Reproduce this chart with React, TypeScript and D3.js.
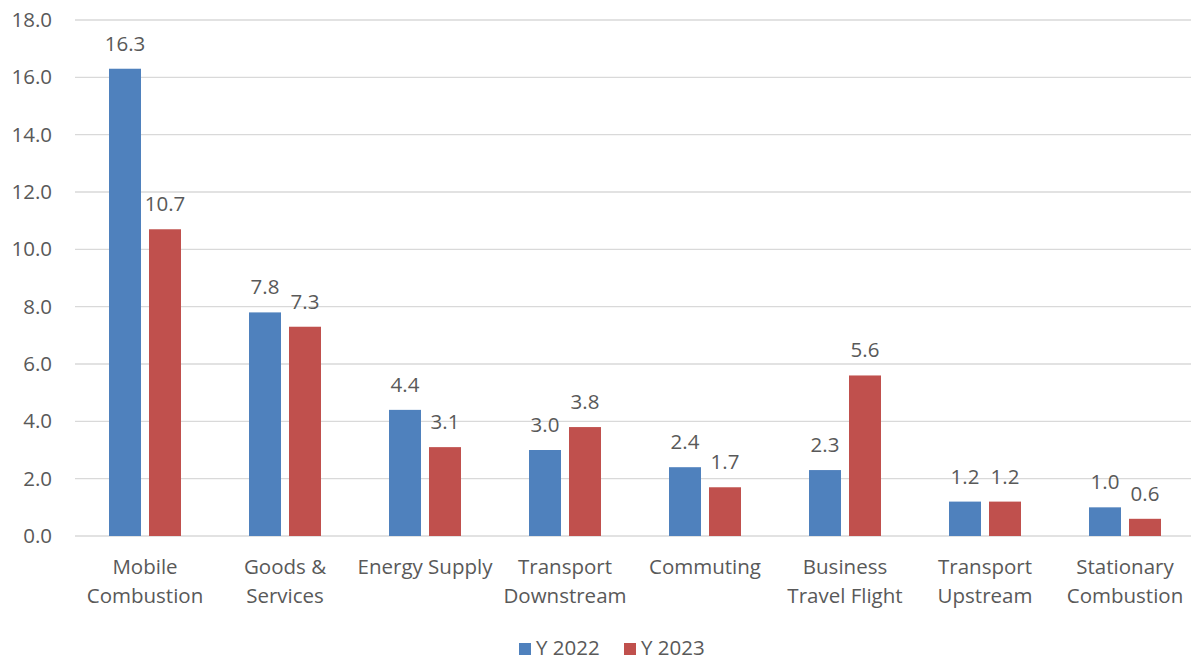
import React from "react";
import * as d3 from "d3";

const categories: string[][] = [
  ["Mobile", "Combustion"],
  ["Goods &", "Services"],
  ["Energy Supply"],
  ["Transport", "Downstream"],
  ["Commuting"],
  ["Business", "Travel Flight"],
  ["Transport", "Upstream"],
  ["Stationary", "Combustion"],
];
const y2022 = [16.3, 7.8, 4.4, 3.0, 2.4, 2.3, 1.2, 1.0];
const y2023 = [10.7, 7.3, 3.1, 3.8, 1.7, 5.6, 1.2, 0.6];
const seriesNames = ["Y 2022", "Y 2023"];
const seriesColors = ["#4F81BD", "#C0504D"];
const yTicks = [0, 2, 4, 6, 8, 10, 12, 14, 16, 18];

const W = 1191;
const H = 660;
const FONT = "'Open Sans', sans-serif";
const FS = 20.5;
const TXT = "#595959";

export default function App() {
  const left = 75, right = 1195, top = 20, bottom = 536;
  const keys = categories.map((_, i) => String(i));
  const x = d3.scaleBand<string>().domain(keys).range([left, right]).paddingInner(0).paddingOuter(0);
  const sub = d3.scaleBand<string>().domain(["0", "1"]).range([-36, 36]).paddingInner(0.2).paddingOuter(0);
  const y = d3.scaleLinear().domain([0, 18]).range([bottom, top]);
  const series = [y2022, y2023];

  return (
    <svg width={W} height={H} style={{ display: "block", position: "absolute", left: 0, top: 0 }} fontFamily={FONT}>
      <rect width={W} height={H} fill="#fff" />
      {yTicks.map((t) => (
        <g key={t}>
          <line x1={left} x2={right} y1={y(t)} y2={y(t)} stroke="#D9D9D9" strokeWidth={1.3} />
          <text x={52} y={y(t) + 7} textAnchor="end" fontSize={FS} fill={TXT}>
            {t.toFixed(1)}
          </text>
        </g>
      ))}
      {keys.map((k, i) => {
        const cx = x(k)! + x.bandwidth() / 2;
        return (
          <g key={k}>
            {series.map((vals, s) => {
              const bx = cx + sub(String(s))!;
              const v = vals[i];
              return (
                <g key={s}>
                  <rect x={bx} y={y(v)} width={sub.bandwidth()} height={y(0) - y(v)} fill={seriesColors[s]} />
                  <text x={bx + sub.bandwidth() / 2} y={y(v) - 18} textAnchor="middle" fontSize={FS} fill={TXT}>
                    {v.toFixed(1)}
                  </text>
                </g>
              );
            })}
            {categories[i].map((line, j) => (
              <text key={j} x={cx} y={574 + j * 29} textAnchor="middle" fontSize={FS} fill={TXT}>
                {line}
              </text>
            ))}
          </g>
        );
      })}
      {seriesNames.map((n, s) => {
        const lx = [519, 624][s];
        return (
          <g key={n}>
            <rect x={lx} y={643} width={12} height={12} fill={seriesColors[s]} />
            <text x={lx + 17} y={655} fontSize={FS} fill={TXT}>
              {n}
            </text>
          </g>
        );
      })}
    </svg>
  );
}
